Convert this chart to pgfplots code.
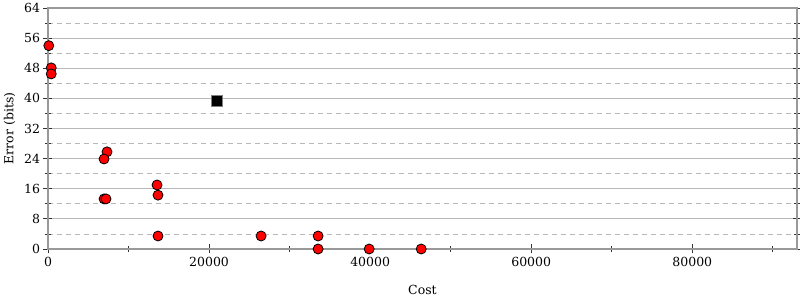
\documentclass[border=0pt]{standalone}
\usepackage{fontspec}
\setmainfont{DejaVu Serif}
\usepackage{pgfplots}
\pgfplotsset{compat=1.18}
\begin{document}
\begin{tikzpicture}
\begin{axis}[
  scale only axis,
  width=749bp, height=241bp,
  xmin=0, xmax=93000, ymin=0, ymax=64,
  /pgf/number format/assume math mode=true,
  font=\fontsize{12.5bp}{14bp}\selectfont,
  ticklabel style={font=\fontsize{12.5bp}{14bp}\selectfont},
  scaled x ticks=false,
  xtick={0,20000,40000,60000,80000},
  xticklabels={0,20000,40000,60000,80000},
  minor xtick={10000,30000,50000,70000,90000},
  ytick={0,8,...,64},
  minor ytick={4,12,...,60},
  xtick pos=bottom,
  ytick pos=both,
  yticklabel pos=left,
  tick align=center,
  major tick length=9bp,
  minor tick length=6bp,
  every tick/.style={black!80, line width=0.8bp},
  ymajorgrids, yminorgrids,
  major grid style={black!28, line width=0.8bp},
  minor grid style={black!28, dashed, dash pattern=on 5bp off 4bp, line width=0.8bp},
  axis line style={black!40, line width=1.6bp},
  xlabel={Cost}, ylabel={Error (bits)},
  xlabel style={yshift=-12bp},
  ylabel style={yshift=2bp},
  clip=false,
]
\addplot[only marks, mark=*, mark size=5bp, mark options={fill=red, draw=black, line width=0.8bp}] coordinates {
(100,54) (400,48.1) (400,46.5)
(7330,25.8) (6960,23.9) (6960,13.3) (7200,13.3)
(13540,17.0) (13660,14.3) (13660,3.45)
(26460,3.45) (33540,3.45) (33540,0) (39880,0) (46340,0)
};
\addplot[only marks, mark=square*, mark size=5.5bp, mark options={fill=black, draw=black!50, line width=0.6bp}] coordinates {
(21000,39.3)
};
\coordinate (ll) at (rel axis cs:0,0);
\coordinate (ur) at (rel axis cs:1,1);
\end{axis}
\pgfresetboundingbox
\path ([shift={(-48bp,-51bp)}]ll) rectangle ([shift={(3bp,8bp)}]ur);
\end{tikzpicture}
\end{document}
